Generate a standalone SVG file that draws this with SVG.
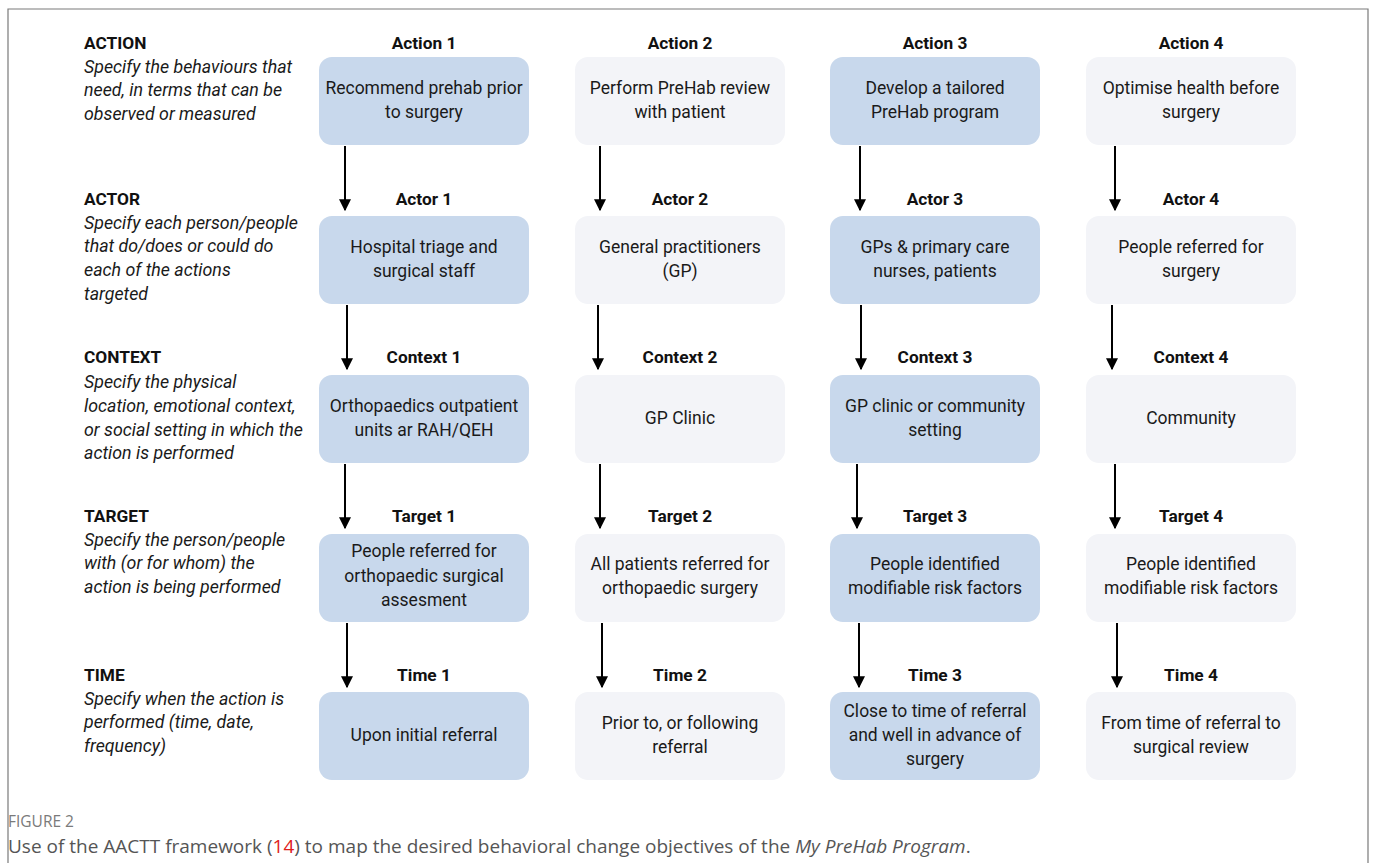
<svg xmlns="http://www.w3.org/2000/svg" width="1375" height="863" viewBox="0 0 1375 863">
<style>
.frame{fill:none;stroke:#7a7a7a;stroke-width:1.2}
.blue{fill:#c8d8ec}
.light{fill:#f3f4f8}
.bt{font-family:Roboto,"Liberation Sans",sans-serif;font-size:17.5px;fill:#1a1a1a;text-anchor:middle}
.hd{font-family:Roboto,"Liberation Sans",sans-serif;font-size:17.3px;font-weight:bold;fill:#111;text-anchor:middle}
.lh{font-family:Roboto,"Liberation Sans",sans-serif;font-size:17.3px;font-weight:bold;fill:#111}
.li{font-family:Roboto,"Liberation Sans",sans-serif;font-size:17.8px;font-style:italic;fill:#1a1a1a}
.con{stroke:#000;stroke-width:2;fill:none}
.cap1{font-family:"Open Sans","Liberation Sans",sans-serif;font-size:15.5px;fill:#7a7a7a}
.cap2{font-family:"Open Sans","Liberation Sans",sans-serif;font-size:19px;fill:#555}
</style>
<defs>
<marker id="ah" viewBox="0 0 10 10" refX="9" refY="5" markerWidth="6" markerHeight="6" orient="auto" markerUnits="strokeWidth">
<path d="M0,0 L10,5 L0,10 Z" fill="#000"/>
</marker>
</defs>
<rect width="1375" height="863" fill="#fff"/>
<path class="frame" d="M8,880 L8,9 L1368,9 L1368,880"/>

<g id="labels">
<text class="lh" x="84" y="49">ACTION</text>
<text class="li" x="84" y="73">Specify the behaviours that</text>
<text class="li" x="84" y="96">need, in terms that can be</text>
<text class="li" x="84" y="120">observed or measured</text>
<text class="lh" x="84" y="205">ACTOR</text>
<text class="li" x="84" y="229">Specify each person/people</text>
<text class="li" x="84" y="252">that do/does or could do</text>
<text class="li" x="84" y="276">each of the actions</text>
<text class="li" x="84" y="300">targeted</text>
<text class="lh" x="84" y="363">CONTEXT</text>
<text class="li" x="84" y="388">Specify the physical</text>
<text class="li" x="84" y="412">location, emotional context,</text>
<text class="li" x="84" y="436">or social setting in which the</text>
<text class="li" x="84" y="459">action is performed</text>
<text class="lh" x="84" y="522">TARGET</text>
<text class="li" x="84" y="546">Specify the person/people</text>
<text class="li" x="84" y="569">with (or for whom) the</text>
<text class="li" x="84" y="593">action is being performed</text>
<text class="lh" x="84" y="681">TIME</text>
<text class="li" x="84" y="705">Specify when the action is</text>
<text class="li" x="84" y="728">performed (time, date,</text>
<text class="li" x="84" y="752">frequency)</text>
</g>

<g id="connectors">
<line class="con" x1="345" y1="146" x2="345" y2="210" marker-end="url(#ah)"/>
<line class="con" x1="600" y1="146" x2="600" y2="210" marker-end="url(#ah)"/>
<line class="con" x1="860" y1="146" x2="860" y2="210" marker-end="url(#ah)"/>
<line class="con" x1="1115" y1="146" x2="1115" y2="210" marker-end="url(#ah)"/>
<line class="con" x1="347" y1="305" x2="347" y2="369" marker-end="url(#ah)"/>
<line class="con" x1="598" y1="305" x2="598" y2="369" marker-end="url(#ah)"/>
<line class="con" x1="861" y1="305" x2="861" y2="369" marker-end="url(#ah)"/>
<line class="con" x1="1112" y1="305" x2="1112" y2="369" marker-end="url(#ah)"/>
<line class="con" x1="345" y1="464" x2="345" y2="528" marker-end="url(#ah)"/>
<line class="con" x1="600" y1="464" x2="600" y2="528" marker-end="url(#ah)"/>
<line class="con" x1="857" y1="464" x2="857" y2="528" marker-end="url(#ah)"/>
<line class="con" x1="1115" y1="464" x2="1115" y2="528" marker-end="url(#ah)"/>
<line class="con" x1="347" y1="623" x2="347" y2="687" marker-end="url(#ah)"/>
<line class="con" x1="602" y1="623" x2="602" y2="687" marker-end="url(#ah)"/>
<line class="con" x1="859" y1="623" x2="859" y2="687" marker-end="url(#ah)"/>
<line class="con" x1="1117" y1="623" x2="1117" y2="687" marker-end="url(#ah)"/>
</g>

<!-- Row 1: Action -->
<g id="action1"><text class="hd" x="424" y="49">Action 1</text><rect class="blue" x="319" y="57" width="210" height="88" rx="13"/><text class="bt" x="424" y="94">Recommend prehab prior</text><text class="bt" x="424" y="118">to surgery</text></g>
<g id="action2"><text class="hd" x="680" y="49">Action 2</text><rect class="light" x="575" y="57" width="210" height="88" rx="13"/><text class="bt" x="680" y="94">Perform PreHab review</text><text class="bt" x="680" y="118">with patient</text></g>
<g id="action3"><text class="hd" x="935" y="49">Action 3</text><rect class="blue" x="830" y="57" width="210" height="88" rx="13"/><text class="bt" x="935" y="94">Develop a tailored</text><text class="bt" x="935" y="118">PreHab program</text></g>
<g id="action4"><text class="hd" x="1191" y="49">Action 4</text><rect class="light" x="1086" y="57" width="210" height="88" rx="13"/><text class="bt" x="1191" y="94">Optimise health before</text><text class="bt" x="1191" y="118">surgery</text></g>

<!-- Row 2: Actor -->
<g id="actor1"><text class="hd" x="424" y="205">Actor 1</text><rect class="blue" x="319" y="216" width="210" height="88" rx="13"/><text class="bt" x="424" y="253">Hospital triage and</text><text class="bt" x="424" y="277">surgical staff</text></g>
<g id="actor2"><text class="hd" x="680" y="205">Actor 2</text><rect class="light" x="575" y="216" width="210" height="88" rx="13"/><text class="bt" x="680" y="253">General practitioners</text><text class="bt" x="680" y="277">(GP)</text></g>
<g id="actor3"><text class="hd" x="935" y="205">Actor 3</text><rect class="blue" x="830" y="216" width="210" height="88" rx="13"/><text class="bt" x="935" y="253">GPs &amp; primary care</text><text class="bt" x="935" y="277">nurses, patients</text></g>
<g id="actor4"><text class="hd" x="1191" y="205">Actor 4</text><rect class="light" x="1086" y="216" width="210" height="88" rx="13"/><text class="bt" x="1191" y="253">People referred for</text><text class="bt" x="1191" y="277">surgery</text></g>

<!-- Row 3: Context -->
<g id="context1"><text class="hd" x="424" y="363">Context 1</text><rect class="blue" x="319" y="375" width="210" height="88" rx="13"/><text class="bt" x="424" y="412">Orthopaedics outpatient</text><text class="bt" x="424" y="436">units ar RAH/QEH</text></g>
<g id="context2"><text class="hd" x="680" y="363">Context 2</text><rect class="light" x="575" y="375" width="210" height="88" rx="13"/><text class="bt" x="680" y="424">GP Clinic</text></g>
<g id="context3"><text class="hd" x="935" y="363">Context 3</text><rect class="blue" x="830" y="375" width="210" height="88" rx="13"/><text class="bt" x="935" y="412">GP clinic or community</text><text class="bt" x="935" y="436">setting</text></g>
<g id="context4"><text class="hd" x="1191" y="363">Context 4</text><rect class="light" x="1086" y="375" width="210" height="88" rx="13"/><text class="bt" x="1191" y="424">Community</text></g>

<!-- Row 4: Target -->
<g id="target1"><text class="hd" x="424" y="522">Target 1</text><rect class="blue" x="319" y="534" width="210" height="88" rx="13"/><text class="bt" x="424" y="557">People referred for</text><text class="bt" x="424" y="582">orthopaedic surgical</text><text class="bt" x="424" y="606">assesment</text></g>
<g id="target2"><text class="hd" x="680" y="522">Target 2</text><rect class="light" x="575" y="534" width="210" height="88" rx="13"/><text class="bt" x="680" y="570">All patients referred for</text><text class="bt" x="680" y="594">orthopaedic surgery</text></g>
<g id="target3"><text class="hd" x="935" y="522">Target 3</text><rect class="blue" x="830" y="534" width="210" height="88" rx="13"/><text class="bt" x="935" y="570">People identified</text><text class="bt" x="935" y="594">modifiable risk factors</text></g>
<g id="target4"><text class="hd" x="1191" y="522">Target 4</text><rect class="light" x="1086" y="534" width="210" height="88" rx="13"/><text class="bt" x="1191" y="570">People identified</text><text class="bt" x="1191" y="594">modifiable risk factors</text></g>

<!-- Row 5: Time -->
<g id="time1"><text class="hd" x="424" y="681">Time 1</text><rect class="blue" x="319" y="692" width="210" height="88" rx="13"/><text class="bt" x="424" y="741">Upon initial referral</text></g>
<g id="time2"><text class="hd" x="680" y="681">Time 2</text><rect class="light" x="575" y="692" width="210" height="88" rx="13"/><text class="bt" x="680" y="729">Prior to, or following</text><text class="bt" x="680" y="753">referral</text></g>
<g id="time3"><text class="hd" x="935" y="681">Time 3</text><rect class="blue" x="830" y="692" width="210" height="88" rx="13"/><text class="bt" x="935" y="717">Close to time of referral</text><text class="bt" x="935" y="741">and well in advance of</text><text class="bt" x="935" y="765">surgery</text></g>
<g id="time4"><text class="hd" x="1191" y="681">Time 4</text><rect class="light" x="1086" y="692" width="210" height="88" rx="13"/><text class="bt" x="1191" y="729">From time of referral to</text><text class="bt" x="1191" y="753">surgical review</text></g>

<g id="caption">
<text class="cap1" x="8" y="827">FIGURE 2</text>
<text class="cap2" x="8" y="853">Use of the AACTT framework (<tspan fill="#e0201b">14</tspan>) to map the desired behavioral change objectives of the <tspan font-style="italic">My PreHab Program</tspan>.</text>
</g>
</svg>
